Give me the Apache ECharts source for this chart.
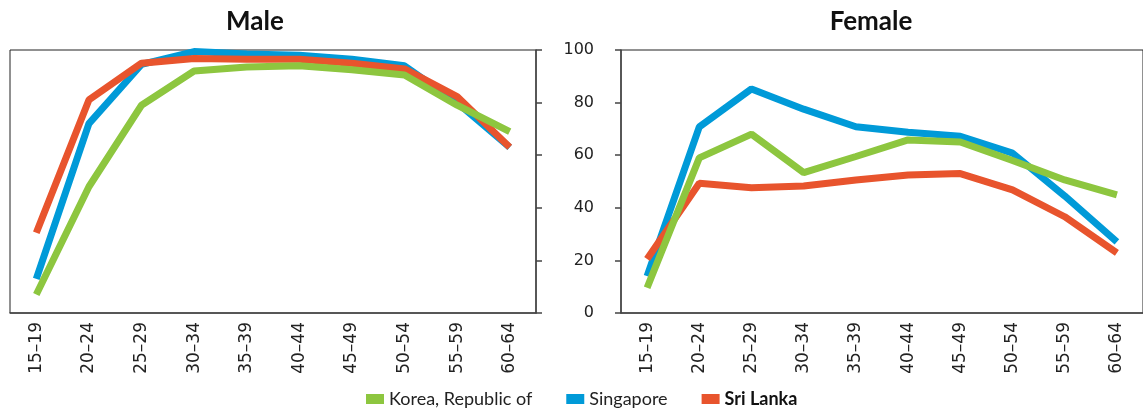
<!DOCTYPE html>
<html>
<head>
<meta charset="utf-8">
<title>Labour force participation by age</title>
<script src="https://cdn.jsdelivr.net/npm/echarts@6/dist/echarts.min.js"></script>
<style>
    html, body { margin: 0; padding: 0; background: #fff; }
    #chart { width: 1143px; height: 413px; }
</style>
</head>
<body>
<div id="chart"></div>
<script>
// age groups (x axis)
var ageGroups = ['15–19', '20–24', '25–29', '30–34', '35–39', '40–44', '45–49', '50–54', '55–59', '60–64'];
// y axis ticks
var yTicks = [0, 20, 40, 60, 80, 100];

// Male
var maleKorea = [7, 48, 79, 92, 93.5, 94, 92.5, 90.5, 79, 69];
var maleSingapore = [13, 72, 94.5, 99.4, 98.5, 98, 96.5, 94, 80, 63];
var maleSriLanka = [30.5, 81, 95, 96.8, 96.5, 96.5, 95, 92.8, 82.3, 63];

// Female
var femaleKorea = [9.6, 59, 68, 53.4, 59.5, 65.8, 65, 58, 50.6, 44.9];
var femaleSingapore = [14, 70.8, 85.2, 77.5, 70.8, 68.7, 67.2, 60.8, 44.5, 27];
var femaleSriLanka = [20.5, 49.3, 47.6, 48.3, 50.6, 52.5, 53, 46.8, 36.6, 22.9];

var seriesNames = ['Korea, Republic of', 'Singapore', 'Sri Lanka'];
var colors = { 'Korea, Republic of': '#8DC63F', 'Singapore': '#009AD8', 'Sri Lanka': '#E8542D' };
// drawing order: blue under red, green on top
var zOrder = { 'Korea, Republic of': 4, 'Singapore': 2, 'Sri Lanka': 3 };

var myChart = echarts.init(document.getElementById('chart'));

var axisColor = '#444';
var labelFont = '"DejaVu Sans", Verdana, sans-serif';

function xAxisFor(gridIndex) {
    return {
        type: 'category',
        gridIndex: gridIndex,
        data: ageGroups,
        boundaryGap: true,
        axisLine: { lineStyle: { color: axisColor, width: 1.5 } },
        axisTick: { inside: false, length: 6, lineStyle: { color: axisColor, width: 1.5 } },
        axisLabel: { rotate: 90, margin: 9, color: '#222', fontSize: 17, fontFamily: labelFont }
    };
}

function lineSeries(name, data, idx) {
    return {
        name: name,
        type: 'line',
        xAxisIndex: idx,
        yAxisIndex: idx,
        data: data,
        symbol: 'none',
        z: zOrder[name],
        color: colors[name],
        lineStyle: { width: 7, color: colors[name] },
        silent: true
    };
}

var option = {
    animation: false,
    title: [
        { text: 'Male', left: 250, top: 4, textAlign: 'center',
          textStyle: { fontFamily: 'Lato', fontWeight: 'bold', fontSize: 26, color: '#111' } },
        { text: 'Female', left: 866, top: 4, textAlign: 'center',
          textStyle: { fontFamily: 'Lato', fontWeight: 'bold', fontSize: 26, color: '#111' } }
    ],
    legend: {
        left: 361,
        bottom: 0,
        icon: 'rect',
        itemWidth: 18,
        itemHeight: 10,
        itemGap: 34,
        textStyle: { fontFamily: 'Lato', fontSize: 18, color: '#222' },
        data: [
            { name: 'Korea, Republic of' },
            { name: 'Singapore' },
            { name: 'Sri Lanka', textStyle: { fontWeight: 'bold', color: '#111' } }
        ],
        selectedMode: false
    },
    grid: [
        { left: 10, right: 607, top: 50, bottom: 100, show: true, borderColor: '#222', borderWidth: 1 },
        { left: 621, right: -4, top: 50, bottom: 100, show: true, borderColor: '#222', borderWidth: 1 }
    ],
    xAxis: [xAxisFor(0), xAxisFor(1)],
    yAxis: [
        {
            type: 'value', gridIndex: 0, position: 'right',
            min: yTicks[0], max: yTicks[yTicks.length - 1], interval: 20,
            axisLine: { show: true, lineStyle: { color: axisColor, width: 1.5 } },
            axisTick: { show: true, inside: false, length: 6, lineStyle: { color: axisColor, width: 1.5 } },
            axisLabel: { show: false },
            splitLine: { show: false }
        },
        {
            type: 'value', gridIndex: 1, position: 'left',
            min: yTicks[0], max: yTicks[yTicks.length - 1], interval: 20,
            axisLabel: { margin: 27, color: '#222', fontSize: 16, fontFamily: labelFont },
            axisLine: { show: true, lineStyle: { color: axisColor, width: 1.5 } },
            axisTick: { show: true, inside: false, length: 6, lineStyle: { color: axisColor, width: 1.5 } },
            splitLine: { show: false }
        }
    ],
    series: [
        lineSeries('Singapore', maleSingapore, 0),
        lineSeries('Sri Lanka', maleSriLanka, 0),
        lineSeries('Korea, Republic of', maleKorea, 0),
        lineSeries('Singapore', femaleSingapore, 1),
        lineSeries('Sri Lanka', femaleSriLanka, 1),
        lineSeries('Korea, Republic of', femaleKorea, 1)
    ]
};

myChart.setOption(option);
</script>
</body>
</html>
